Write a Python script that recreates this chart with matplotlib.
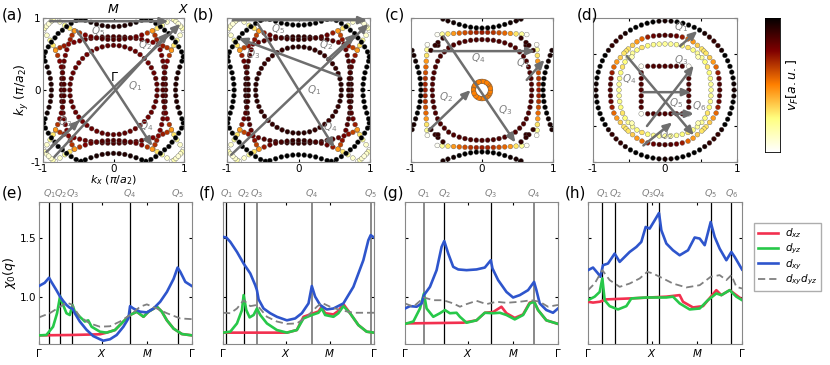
import numpy as np
import matplotlib
matplotlib.use('Agg')
import matplotlib.pyplot as plt

plt.rcParams['font.family'] = ['DejaVu Sans']
plt.rcParams['mathtext.fontset'] = 'dejavusans'

# ---------------- Fermi-surface points (one octant: 0 <= ky <= kx), value = v_F (0..1)
a_inner = [(0.62, 0.0, 0.82), (0.615, 0.081, 0.82), (0.599, 0.160, 0.82), (0.573, 0.237, 0.8),
           (0.537, 0.31, 0.8), (0.492, 0.377, 0.78), (0.438, 0.438, 0.78)]
a_ellipse = [(0.74, 0.0, 0.85), (0.738, 0.08, 0.85), (0.734, 0.16, 0.85), (0.726, 0.24, 0.84),
             (0.715, 0.32, 0.82), (0.701, 0.40, 0.8), (0.683, 0.48, 0.78), (0.662, 0.56, 0.76),
             (0.637, 0.637, 0.74), (0.70, 0.613, 0.7), (0.76, 0.588, 0.65), (0.82, 0.558, 0.5)]
a_arc = [(0.70, 0.0, 0.85), (0.702, 0.08, 0.85), (0.71, 0.16, 0.84), (0.722, 0.24, 0.82),
         (0.74, 0.32, 0.8), (0.763, 0.40, 0.75), (0.792, 0.48, 0.65), (0.822, 0.55, 0.45),
         (0.857, 0.62, 0.3), (0.898, 0.69, 0.2), (0.945, 0.76, 0.1), (0.99, 0.83, 0.02)]
a_outer = [(0.88, 0.0, 0.93), (0.884, 0.08, 0.93), (0.895, 0.16, 0.93), (0.915, 0.24, 0.95),
           (0.94, 0.32, 0.97), (0.97, 0.40, 1.0), (0.99, 0.46, 1.0), (0.965, 0.53, 1.0),
           (0.925, 0.6, 1.0), (0.88, 0.665, 1.0), (0.83, 0.725, 1.0), (0.785, 0.785, 1.0)]
a_corner = [(0.975, 0.86, 0.15), (0.95, 0.887, 0.1), (0.919, 0.919, 0.08)]

b_inner = [(0.60, 0.0, 0.92), (0.595, 0.078, 0.92), (0.58, 0.155, 0.92), (0.554, 0.23, 0.9),
           (0.52, 0.30, 0.9), (0.476, 0.365, 0.9), (0.424, 0.424, 0.88)]
b_ellipse = [(0.74, 0.0, 0.9), (0.738, 0.08, 0.9), (0.734, 0.16, 0.9), (0.726, 0.24, 0.9),
             (0.715, 0.32, 0.88), (0.701, 0.40, 0.86), (0.683, 0.48, 0.84), (0.662, 0.56, 0.8),
             (0.637, 0.637, 0.78), (0.70, 0.613, 0.72), (0.76, 0.588, 0.62), (0.82, 0.558, 0.5)]
b_arc = [(0.70, 0.0, 0.9), (0.702, 0.08, 0.9), (0.71, 0.16, 0.88), (0.722, 0.24, 0.86),
         (0.74, 0.32, 0.84), (0.763, 0.40, 0.8), (0.792, 0.48, 0.7), (0.822, 0.55, 0.45),
         (0.857, 0.62, 0.3), (0.898, 0.69, 0.2), (0.945, 0.76, 0.1), (0.99, 0.83, 0.02)]
b_outer = [(0.9, 0.0, 1.0), (0.904, 0.08, 1.0), (0.915, 0.16, 1.0), (0.93, 0.24, 1.0),
           (0.955, 0.32, 1.0), (0.98, 0.40, 1.0), (0.99, 0.46, 1.0), (0.965, 0.53, 1.0),
           (0.925, 0.6, 1.0), (0.88, 0.665, 1.0), (0.83, 0.725, 1.0), (0.785, 0.785, 1.0)]
b_corner = [(0.975, 0.86, 0.15), (0.95, 0.887, 0.1), (0.919, 0.919, 0.08)]

c_ring = [(0.12, 0.0, 0.5), (0.118, 0.023, 0.5), (0.111, 0.046, 0.5), (0.1, 0.067, 0.5),
          (0.085, 0.085, 0.5)]
c_inner = [(0.70, 0.0, 0.85), (0.697, 0.08, 0.85), (0.69, 0.16, 0.85), (0.675, 0.24, 0.85),
           (0.655, 0.32, 0.85), (0.625, 0.40, 0.85), (0.585, 0.47, 0.85), (0.53, 0.53, 0.85)]
c_flat = [(0.80, 0.0, 0.7), (0.80, 0.08, 0.68), (0.798, 0.16, 0.65), (0.795, 0.24, 0.6),
          (0.79, 0.32, 0.55), (0.785, 0.40, 0.45), (0.78, 0.48, 0.3), (0.775, 0.56, 0.2),
          (0.77, 0.63, 0.02)]
c_outer = [(0.86, 0.0, 1.0), (0.863, 0.08, 1.0), (0.872, 0.16, 1.0), (0.888, 0.24, 1.0),
           (0.91, 0.32, 1.0), (0.935, 0.40, 0.97), (0.96, 0.48, 0.95), (0.985, 0.55, 0.95)]
c_arc = [(0.72, 0.55, 0.9), (0.66, 0.62, 0.9), (0.62, 0.62, 0.9)]

d_outer = [(0.96, 0.0, 0.95), (0.956, 0.084, 0.97), (0.945, 0.167, 1.0), (0.927, 0.248, 1.0),
           (0.902, 0.328, 1.0), (0.87, 0.406, 1.0), (0.832, 0.48, 1.0), (0.786, 0.551, 0.95),
           (0.735, 0.617, 0.9), (0.679, 0.679, 0.9)]
d_ring1 = [(0.76, 0.0, 0.85), (0.757, 0.08, 0.85), (0.75, 0.16, 0.8), (0.735, 0.24, 0.7),
           (0.71, 0.32, 0.55), (0.67, 0.39, 0.45), (0.62, 0.45, 0.35), (0.57, 0.51, 0.3),
           (0.54, 0.54, 0.3)]
d_ring2 = [(0.64, 0.0, 0.2), (0.637, 0.08, 0.2), (0.63, 0.16, 0.22), (0.615, 0.24, 0.25),
           (0.59, 0.32, 0.3), (0.555, 0.39, 0.25), (0.51, 0.45, 0.2), (0.46, 0.46, 0.15)]
d_square = [(0.33, 0.0, 0.85), (0.33, 0.08, 0.85), (0.33, 0.16, 0.85), (0.33, 0.24, 0.85),
            (0.33, 0.33, 0.02)]

panel_fs = {
    'a': [a_inner, a_ellipse, a_arc, a_outer, a_corner],
    'b': [b_inner, b_ellipse, b_arc, b_outer, b_corner],
    'c': [c_ring, c_inner, c_flat, c_outer, c_arc],
    'd': [d_outer, d_ring1, d_ring2, d_square],
}

# arrows (start, end), labels (x, y, text)
a_arrows = [((-0.95, -0.86), (0.95, 0.92)), ((-0.84, -0.93), (0.78, 0.8)),
            ((-0.88, -0.78), (-0.48, -0.42)), ((-0.52, 0.83), (0.55, -0.78)),
            ((-0.9, 0.955), (0.78, 0.955))]
a_qlabels = [(0.3, 0.05, '$Q_1$'), (0.45, 0.62, '$Q_2$'), (-0.68, -0.45, '$Q_3$'),
             (0.47, -0.5, '$Q_4$'), (-0.22, 0.82, '$Q_5$')]
b_arrows = [((-0.94, -0.9), (0.98, 0.92)), ((0.4, 0.42), (0.8, 0.78)),
            ((0.58, 0.19), (-0.84, 0.72)), ((-0.57, 0.92), (0.5, -0.8)),
            ((-0.92, 0.97), (0.96, 0.97))]
b_qlabels = [(0.22, 0.0, '$Q_1$'), (0.38, 0.63, '$Q_2$'), (-0.64, 0.5, '$Q_3$'),
             (0.45, -0.52, '$Q_4$'), (-0.28, 0.85, '$Q_5$')]
c_arrows = [((0.63, 0.14), (0.88, 0.42)), ((-0.75, -0.56), (-0.16, 0.0)),
            ((-0.54, 0.74), (0.47, -0.73)), ((-0.68, 0.54), (0.75, 0.54))]
c_qlabels = [(0.58, 0.37, '$Q_1$'), (-0.5, -0.1, '$Q_2$'), (0.32, -0.28, '$Q_3$'),
             (-0.05, 0.44, '$Q_4$')]
d_arrows = [((0.21, 0.61), (0.45, 0.82)), ((-0.3, -0.77), (0.1, -0.45)),
            ((-0.25, -0.5), (0.4, 0.34)), ((-0.53, 0.47), (0.4, -0.63)),
            ((-0.3, -0.03), (0.36, -0.03)), ((0.1, -0.33), (0.4, -0.33))]
d_qlabels = [(0.22, 0.88, '$Q_1$'), (0.02, -0.62, '$Q_2$'), (0.22, 0.42, '$Q_3$'),
             (-0.5, 0.15, '$Q_4$'), (0.15, -0.18, '$Q_5$'), (0.47, -0.22, '$Q_6$')]

# ---------------- susceptibility chi_0(q) along Gamma-X-M-Gamma
e_blue_x = [0, 0.127, 0.224, 0.276, 0.388, 0.471, 0.538, 0.613, 0.687, 0.747, 0.799, 0.911, 1.061,
            1.210, 1.360, 1.434, 1.584, 1.733, 1.883, 1.995, 2.032, 2.107, 2.256, 2.406, 2.555,
            2.704, 2.854, 3.003, 3.093, 3.153, 3.265, 3.414]
e_blue_y = [1.09, 1.117, 1.16, 1.125, 1.055, 1.0, 0.965, 0.93, 0.906, 0.9, 0.86, 0.79, 0.72, 0.667,
            0.64, 0.628, 0.64, 0.676, 0.746, 0.816, 0.92, 0.9, 0.873, 0.867, 0.9, 0.957, 1.04,
            1.15, 1.246, 1.21, 1.125, 1.089]
e_green_x = [0, 0.164, 0.314, 0.403, 0.471, 0.538, 0.613, 0.687, 0.747, 0.799, 0.911, 1.024, 1.098,
             1.173, 1.360, 1.509, 1.696, 1.883, 2.032, 2.182, 2.331, 2.443, 2.630, 2.742, 2.854,
             3.003, 3.190, 3.414]
e_green_y = [0.673, 0.676, 0.746, 0.86, 1.005, 0.93, 0.86, 0.845, 0.93, 0.873, 0.83, 0.79, 0.80,
             0.746, 0.704, 0.696, 0.718, 0.79, 0.845, 0.873, 0.83, 0.873, 0.915, 0.873, 0.80, 0.73,
             0.684, 0.673]
e_red_x = [0, 0.7, 1.360, 1.509, 1.696, 1.883, 2.032, 2.182, 2.331, 2.443, 2.630, 2.742, 2.854,
           3.003, 3.190, 3.414]
e_red_y = [0.673, 0.676, 0.682, 0.696, 0.718, 0.79, 0.845, 0.873, 0.83, 0.873, 0.915, 0.873, 0.80,
           0.73, 0.684, 0.673]
e_gray_x = [0, 0.239, 0.471, 0.613, 0.724, 0.747, 0.911, 1.136, 1.360, 1.584, 1.808, 2.032, 2.256,
            2.406, 2.630, 2.854, 3.153, 3.414]
e_gray_y = [0.825, 0.86, 0.915, 0.95, 0.935, 0.925, 0.83, 0.774, 0.746, 0.75, 0.79, 0.845, 0.915,
            0.935, 0.9, 0.86, 0.816, 0.81]

f_blue_x = [0, 0.075, 0.165, 0.316, 0.466, 0.617, 0.729, 0.767, 0.805, 0.917, 1.068, 1.218, 1.444,
            1.632, 1.782, 1.933, 2.008, 2.083, 2.196, 2.346, 2.497, 2.722, 2.948, 3.173, 3.286,
            3.339, 3.414]
f_blue_y = [1.505, 1.5, 1.463, 1.378, 1.28, 1.196, 1.097, 1.055, 0.977, 0.9, 0.86, 0.83, 0.8,
            0.816, 0.86, 0.943, 1.09, 1.0, 0.93, 0.892, 0.9, 0.943, 1.083, 1.308, 1.477, 1.52, 1.5]
f_green_x = [0, 0.165, 0.316, 0.429, 0.466, 0.526, 0.602, 0.692, 0.767, 0.842, 0.993, 1.218,
             1.444, 1.669, 1.820, 2.008, 2.158, 2.233, 2.309, 2.497, 2.609, 2.722, 2.873, 3.061,
             3.249, 3.414]
f_green_y = [0.696, 0.704, 0.774, 0.887, 1.013, 0.887, 0.825, 0.845, 0.9, 0.845, 0.774, 0.718,
             0.696, 0.718, 0.816, 0.845, 0.864, 0.9, 0.845, 0.83, 0.86, 0.92, 0.86, 0.76, 0.704,
             0.696]
f_red_x = [0, 1.35, 1.444, 1.669, 1.820, 2.008, 2.158, 2.233, 2.309, 2.497, 2.609, 2.722, 2.873,
           3.061, 3.249, 3.414]
f_red_y = [0.696, 0.696, 0.696, 0.718, 0.83, 0.855, 0.875, 0.915, 0.86, 0.85, 0.88, 0.937, 0.86,
           0.76, 0.704, 0.696]
f_gray_x = [0, 0.165, 0.316, 0.466, 0.617, 0.767, 0.993, 1.218, 1.444, 1.669, 1.895, 2.121, 2.233,
            2.421, 2.647, 2.948, 3.414]
f_gray_y = [0.864, 0.86, 0.9, 0.97, 0.92, 0.93, 0.83, 0.79, 0.77, 0.774, 0.83, 0.915, 0.948, 0.915,
            0.887, 0.864, 0.864]

g_blue_x = [0, 0.111, 0.260, 0.371, 0.423, 0.557, 0.705, 0.816, 0.876, 0.965, 1.076, 1.188, 1.373,
            1.596, 1.781, 1.915, 1.952, 2.078, 2.264, 2.412, 2.561, 2.746, 2.880, 2.932, 3.006,
            3.154, 3.303, 3.414]
g_blue_y = [0.9, 0.92, 0.915, 0.943, 1.013, 1.083, 1.224, 1.42, 1.47, 1.364, 1.252, 1.23, 1.224,
            1.23, 1.246, 1.308, 1.238, 1.14, 1.04, 0.993, 1.013, 1.055, 1.125, 1.055, 0.943, 0.887,
            0.864, 0.9]
g_green_x = [0, 0.186, 0.334, 0.423, 0.482, 0.631, 0.779, 0.891, 1.002, 1.150, 1.225, 1.373,
             1.596, 1.781, 1.967, 2.115, 2.264, 2.449, 2.635, 2.783, 2.880, 2.969, 3.154, 3.414]
g_green_y = [0.77, 0.79, 0.9, 1.027, 0.9, 0.83, 0.86, 0.887, 0.86, 0.864, 0.83, 0.78, 0.8, 0.864,
             0.86, 0.864, 0.845, 0.808, 0.845, 0.943, 0.957, 0.887, 0.8, 0.77]
g_red_x = [0, 1.3, 1.596, 1.781, 1.967, 2.152, 2.264, 2.449, 2.635, 2.783, 2.880, 2.969, 3.154,
           3.414]
g_red_y = [0.774, 0.78, 0.8, 0.864, 0.87, 0.915, 0.86, 0.82, 0.85, 0.95, 0.96, 0.887, 0.8, 0.77]
g_gray_x = [0, 0.186, 0.423, 0.631, 0.854, 1.076, 1.225, 1.373, 1.596, 1.818, 2.041, 2.264, 2.561,
            2.820, 3.006, 3.191, 3.414]
g_gray_y = [0.943, 0.915, 0.993, 0.97, 0.97, 0.943, 0.915, 0.937, 0.965, 0.937, 0.957, 0.948,
            0.957, 0.97, 0.957, 0.915, 0.93]

h_blue_x = [0, 0.111, 0.222, 0.273, 0.333, 0.443, 0.591, 0.702, 0.813, 0.924, 1.072, 1.182, 1.279,
            1.367, 1.478, 1.574, 1.626, 1.737, 1.884, 2.032, 2.217, 2.365, 2.476, 2.587, 2.720,
            2.808, 2.919, 3.067, 3.178, 3.252, 3.414]
h_blue_y = [1.224, 1.246, 1.196, 1.168, 1.266, 1.28, 1.364, 1.294, 1.336, 1.378, 1.42, 1.463,
            1.589, 1.575, 1.645, 1.707, 1.561, 1.449, 1.392, 1.35, 1.392, 1.5, 1.491, 1.435, 1.631,
            1.505, 1.406, 1.308, 1.378, 1.336, 1.23]
h_green_x = [0, 0.148, 0.259, 0.318, 0.370, 0.480, 0.665, 0.850, 0.961, 1.293, 1.737, 1.884, 2.032,
             2.254, 2.476, 2.660, 2.845, 2.956, 3.141, 3.289, 3.414]
h_green_y = [0.971, 1.0, 1.04, 1.154, 0.97, 0.92, 0.892, 0.92, 0.985, 0.993, 0.993, 1.0, 0.943,
             0.892, 0.9, 0.971, 1.027, 1.013, 1.055, 1.0, 0.971]
h_red_x = [0, 0.111, 0.259, 0.406, 0.924, 1.737, 2.032, 2.106, 2.328, 2.550, 2.845, 2.956, 3.141,
           3.414]
h_red_y = [0.957, 0.95, 0.957, 0.977, 0.985, 1.0, 1.013, 0.957, 0.909, 0.92, 1.055, 1.013, 1.055,
           0.977]
h_gray_x = [0, 0.148, 0.318, 0.480, 0.702, 0.924, 1.146, 1.315, 1.441, 1.663, 1.884, 2.180, 2.476,
            2.720, 2.919, 3.067, 3.178, 3.289, 3.414]
h_gray_y = [1.055, 1.111, 1.224, 1.14, 1.083, 1.111, 1.154, 1.21, 1.196, 1.154, 1.111, 1.078,
            1.097, 1.168, 1.182, 1.14, 1.182, 1.083, 1.069]

e_q = [0.224, 0.471, 0.747, 2.032, 3.093]
f_q = [0.075, 0.466, 0.767, 2.008, 3.339]
g_q = [0.423, 0.876, 1.915, 2.880]
h_q = [0.318, 0.599, 1.315, 1.574, 2.720, 3.178]
e_qcol = ['k', 'k', 'k', 'k', 'k']
f_qcol = ['k', 'k', '0.5', '0.5', '0.5']
g_qcol = ['0.5', 'k', 'k', '0.5']
h_qcol = ['k', 'k', 'k', 'k', 'k', 'k']

path_ticks = [0, 1.414, 2.414, 3.414]
path_labels = [r'$\Gamma$', r'$X$', r'$M$', r'$\Gamma$']
series_names = [r'$d_{xz}$', r'$d_{yz}$', r'$d_{xy}$', r'$d_{xy}d_{yz}$']
k_ticks = [-1, -0.5, 0, 0.5, 1]
k_ticklabels = ['-1', '', '0', '', '1']

# ---------------- figure
W, H = 830, 365
fig = plt.figure(figsize=(W / 100, H / 100), dpi=100)


def fax(x0, y0, x1, y1):
    return fig.add_axes([x0 / W, 1 - y1 / H, (x1 - x0) / W, (y1 - y0) / H])


def sym8(pts):
    out = set()
    for x, y, v in pts:
        for sx in (1, -1):
            for sy in (1, -1):
                out.add((round(sx * x, 4), round(sy * y, 4), v))
                out.add((round(sx * y, 4), round(sy * x, 4), v))
    return np.array(sorted(out, key=lambda t: -t[2]))


cmap = plt.get_cmap('afmhot_r')
arrow_col = '#6e6e6e'
qcol = '#808080'

top_boxes = {'a': (43, 18, 184, 162), 'b': (227, 18, 370, 162), 'c': (411, 18, 553, 162),
             'd': (593, 18, 737, 162)}
arrows = {'a': (a_arrows, a_qlabels), 'b': (b_arrows, b_qlabels), 'c': (c_arrows, c_qlabels),
          'd': (d_arrows, d_qlabels)}

for key, box in top_boxes.items():
    ax = fax(*box)
    for curve in panel_fs[key]:
        p = sym8(curve)
        ax.scatter(p[:, 0], p[:, 1], c=p[:, 2], cmap=cmap, vmin=0, vmax=1, s=12,
                   edgecolors='#555555', linewidths=0.25, zorder=2)
    arr, labs = arrows[key]
    for (s, e) in arr:
        ax.annotate('', xy=e, xytext=s,
                    arrowprops=dict(arrowstyle='-|>,head_length=0.5,head_width=0.22',
                                    color=arrow_col, lw=1.8, shrinkA=0, shrinkB=0), zorder=3)
    for (x, y, t) in labs:
        ax.text(x, y, t, color=qcol, fontsize=7.5, ha='center', va='center', zorder=4)
    ax.set_xlim(-1, 1)
    ax.set_ylim(-1, 1)
    ax.set_xticks(k_ticks)
    ax.set_yticks(k_ticks)
    ax.set_xticklabels(k_ticklabels)
    ax.tick_params(direction='in', length=2.5, labelsize=7.5, pad=1.5, top=True, right=True)
    if key == 'a':
        ax.set_yticklabels(k_ticklabels)
        ax.set_ylabel(r'$k_y$ ($\pi/a_2$)', fontsize=9, labelpad=0)
        ax.set_xlabel(r'$k_x$ ($\pi/a_2$)', fontsize=8, labelpad=-0.5)
        ax.text(0.02, 0.17, r'$\Gamma$', fontsize=9, ha='center', va='center', zorder=4)
        ax.text(0, 1.03, r'$M$', fontsize=9, ha='center', va='bottom')
        ax.text(1, 1.03, r'$X$', fontsize=9, ha='center', va='bottom')
    else:
        ax.set_yticklabels([])
    for sp in ax.spines.values():
        sp.set_color('#888888')
        sp.set_linewidth(0.8)

# colorbar
cax = fax(765, 18, 780, 152)
grad = np.linspace(0, 1, 256).reshape(-1, 1)
cax.imshow(grad, aspect='auto', cmap=cmap, origin='lower', extent=[0, 1, 0, 1])
cax.set_xticks([])
cax.set_yticks([])
for sp in cax.spines.values():
    sp.set_linewidth(0.6)
fig.text(793 / W, 1 - 85 / H, r'$v_F[a.u.]$', rotation=90, fontsize=9, ha='center', va='center')

# bottom panels
bottom_boxes = {'e': (39, 202, 192, 344), 'f': (223, 202, 374, 344), 'g': (405, 202, 558, 344),
                'h': (588, 202, 742, 344)}
bottom_data = {
    'e': ((e_red_x, e_red_y), (e_green_x, e_green_y), (e_blue_x, e_blue_y), (e_gray_x, e_gray_y),
          e_q, e_qcol),
    'f': ((f_red_x, f_red_y), (f_green_x, f_green_y), (f_blue_x, f_blue_y), (f_gray_x, f_gray_y),
          f_q, f_qcol),
    'g': ((g_red_x, g_red_y), (g_green_x, g_green_y), (g_blue_x, g_blue_y), (g_gray_x, g_gray_y),
          g_q, g_qcol),
    'h': ((h_red_x, h_red_y), (h_green_x, h_green_y), (h_blue_x, h_blue_y), (h_gray_x, h_gray_y),
          h_q, h_qcol),
}
line_styles = [dict(color='#f2304f', lw=1.9), dict(color='#27c849', lw=1.9),
               dict(color='#2e55cc', lw=1.9), dict(color='#808080', lw=1.3, ls=(0, (4, 2.2)))]
handles = None
for key, box in bottom_boxes.items():
    ax = fax(*box)
    red, green, blue, gray, qs, qc = bottom_data[key]
    hs = []
    for (xs, ys), st, nm in zip((red, green, blue, gray), line_styles, series_names):
        h, = ax.plot(xs, ys, label=nm, zorder=3, **st)
        hs.append(h)
    handles = hs
    for i, (q, c) in enumerate(zip(qs, qc)):
        ax.axvline(q, color=c, lw=0.9 if c == 'k' else 1.3, zorder=2)
        ax.text(q, 1.815, '$Q_{%d}$' % (i + 1), color=qcol, fontsize=6.8, ha='center',
                va='bottom')
    ax.set_xlim(0, 3.414)
    ax.set_ylim(0.6, 1.8)
    ax.set_xticks(path_ticks)
    ax.set_xticklabels(path_labels, fontsize=9)
    ax.set_yticks([1.0, 1.5])
    ax.tick_params(direction='in', length=2.5, labelsize=7.5, pad=2, top=True, right=True)
    if key == 'e':
        ax.set_yticklabels(['1.0', '1.5'])
        ax.set_ylabel(r'$\chi_0(q)$', fontsize=9, labelpad=1)
    else:
        ax.set_yticklabels([])
    for sp in ax.spines.values():
        sp.set_color('#888888')
        sp.set_linewidth(0.8)

fig.legend(handles, series_names, loc='upper left', bbox_to_anchor=(754 / W, 1 - 223 / H),
           fontsize=7.5, frameon=True, edgecolor='#999999', fancybox=False, handlelength=2.0,
           borderpad=0.35, labelspacing=0.12, handletextpad=0.6, borderaxespad=0)

for lab, (x, y) in zip('abcdefgh', [(2, 15), (193, 15), (385, 15), (577, 15),
                                      (2, 193), (199, 193), (383, 193), (565, 193)]):
    fig.text(x / W, 1 - y / H, '(%s)' % lab, fontsize=11, ha='left', va='center')

fig.savefig('out.png', dpi=100)
